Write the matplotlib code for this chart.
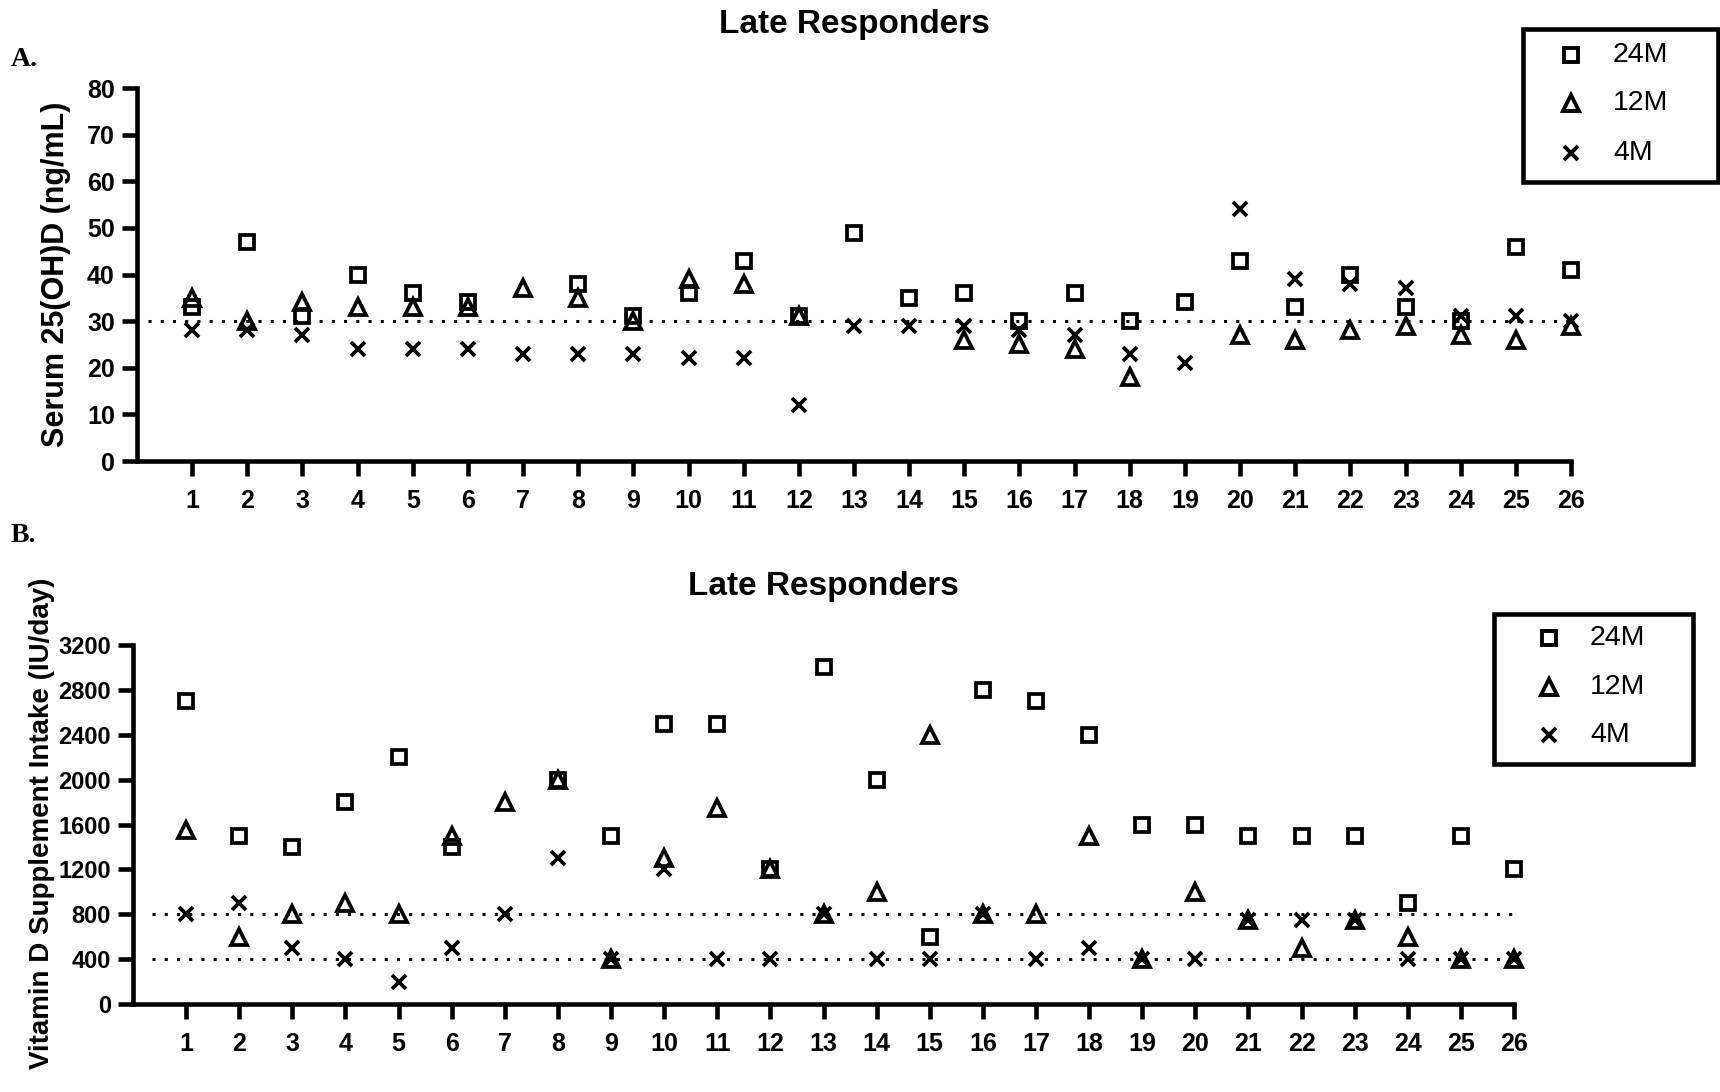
import numpy as np
from matplotlib import pyplot as plt
from matplotlib.patches import Rectangle
from matplotlib.lines import Line2D

plt.rcParams['font.family'] = ['Liberation Sans', 'DejaVu Sans']
plt.rcParams['font.weight'] = 'bold'

nan = np.nan
subjects = np.arange(1, 27)
groups = ['24M', '12M', '4M']

# A. serum 25(OH)D (ng/mL), nan = not shown
serum_24m = [33, 47, 31, 40, 36, 34, nan, 38, 31, 36, 43, 31, 49,
             35, 36, 30, 36, 30, 34, 43, 33, 40, 33, 30, 46, 41]
serum_12m = [35, 30, 34, 33, 33, 33, 37, 35, 30, 39, 38, 31, nan,
             nan, 26, 25, 24, 18, nan, 27, 26, 28, 29, 27, 26, 29]
serum_4m = [28, 28, 27, 24, 24, 24, 23, 23, 23, 22, 22, 12, 29,
            29, 29, 28, 27, 23, 21, 54, 39, 38, 37, 31, 31, 30]
serum_cut = [30]

# B. vitamin D supplement intake (IU/day)
intake_24m = [2700, 1500, 1400, 1800, 2200, 1400, nan, 2000, 1500, 2500, 2500, 1200, 3000,
              2000, 600, 2800, 2700, 2400, 1600, 1600, 1500, 1500, 1500, 900, 1500, 1200]
intake_12m = [1550, 600, 800, 900, 800, 1500, 1800, 2000, 400, 1300, 1750, 1200, 800,
              1000, 2400, 800, 800, 1500, 400, 1000, 750, 500, 750, 600, 400, 400]
intake_4m = [800, 900, 500, 400, 200, 500, 800, 1300, 400, 1200, 400, 400, 800,
             400, 400, 800, 400, 500, 400, 400, 750, 750, 750, 400, 400, 400]
intake_cuts = [400, 800]

W, H = 1720, 1092
markers = [dict(marker='s', ms=10), dict(marker='^', ms=11), dict(marker='x', ms=9.5)]
LW = 3.3


def px(x0, y0, x1, y1):
    # pixel box (top-left origin) -> figure fraction rect
    return [x0 / W, 1 - y1 / H, (x1 - x0) / W, (y1 - y0) / H]


def panel(ax, series, cuts, cut_x, ymax, ystep, ysize):
    for vals, m in zip(series, markers):
        ax.plot(subjects, vals, ls='none', marker=m['marker'], ms=m['ms'],
                mfc='none', mec='black', mew=2.7, clip_on=False)
    for c in cuts:
        ax.hlines(c, cut_x[0], cut_x[1], colors='black', lw=2.2,
                  linestyles=(0, (1, 3)))
    ax.set_xlim(0, 26)
    ax.set_ylim(0, ymax)
    ax.set_xticks(subjects)
    ax.set_yticks(np.arange(0, ymax + 1, ystep))
    for s in ['top', 'right']:
        ax.spines[s].set_visible(False)
    for s in ['left', 'bottom']:
        ax.spines[s].set_linewidth(LW)
    ax.tick_params(axis='x', length=11, width=LW, pad=9, labelsize=18)
    ax.tick_params(axis='y', length=11, width=LW, pad=5, labelsize=ysize)


def legend_box(fig, box, mx, tx, rows):
    x0, y0, x1, y1 = box
    fig.add_artist(Rectangle((x0 / W, 1 - y1 / H), (x1 - x0) / W, (y1 - y0) / H,
                             transform=fig.transFigure, fill=False,
                             ec='black', lw=LW))
    for g, m, ry in zip(groups, markers, rows):
        fig.add_artist(Line2D([mx / W], [1 - ry / H], transform=fig.transFigure,
                              ls='none', marker=m['marker'], ms=m['ms'],
                              mfc='none', mec='black', mew=2.8))
        fig.text(tx / W, 1 - ry / H, g, ha='left', va='center',
                 fontsize=20.5, fontweight='normal')


fig = plt.figure(figsize=(17.2, 10.92), dpi=100)

ax1 = fig.add_axes(px(137, 88, 1571, 461))
panel(ax1, [serum_24m, serum_12m, serum_4m], serum_cut, (0.2, 26.1), 80, 10, 18)

ax2 = fig.add_axes(px(133, 645, 1514, 1004))
panel(ax2, [intake_24m, intake_12m, intake_4m], intake_cuts, (0.35, 26), 3200, 400, 17)

fig.text(854 / W, 1 - 24 / H, 'Late Responders', ha='center', va='center', fontsize=24)
fig.text(823 / W, 1 - 586 / H, 'Late Responders', ha='center', va='center', fontsize=24)
fig.text(56 / W, 1 - 274 / H, 'Serum 25(OH)D (ng/mL)', rotation=90,
         ha='center', va='center', fontsize=22)
fig.text(42 / W, 1 - 823 / H, 'Vitamin D Supplement Intake (IU/day)', rotation=90,
         ha='center', va='center', fontsize=20)
fig.text(11 / W, 1 - 60 / H, 'A.', ha='left', va='center', fontsize=20,
         family=['Liberation Serif', 'DejaVu Serif'])
fig.text(11 / W, 1 - 535 / H, 'B.', ha='left', va='center', fontsize=20,
         family=['Liberation Serif', 'DejaVu Serif'])

legend_box(fig, (1523, 29, 1718, 182), 1571, 1613, [55, 103, 153])
legend_box(fig, (1494, 614, 1693, 764), 1549, 1590, [638, 687, 735])

fig.savefig('out.png', dpi=100)
